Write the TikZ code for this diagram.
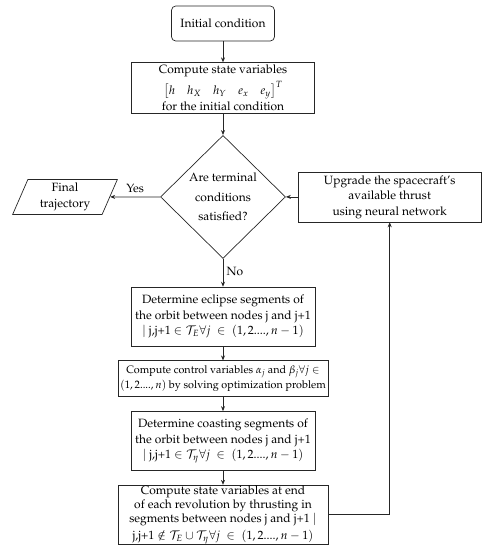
\documentclass[tikz,border=0pt]{standalone}
\usepackage[T1]{fontenc}
\usepackage{amsmath,amssymb}
\usepackage{mathpazo}
\usetikzlibrary{shapes,arrows,shapes.geometric}
\usetikzlibrary{positioning,calc}
\usetikzlibrary{arrows.meta}

\tikzset{
	procbox/.style={rectangle, draw=black!85, line width=0.7pt, align=center, inner sep=2pt},
	flowarrow/.style={-{Stealth[length=5pt,width=4pt]}, line width=0.8pt, black!85},
}

\begin{document}
\begin{tikzpicture}[font=\fontsize{12}{15.5}\selectfont]
				\useasboundingbox (0,0) rectangle (485pt,-550pt);
				\node[procbox, minimum width=103pt, minimum height=35pt, rounded corners=.15cm] (init) at (223pt,-23.5pt) {Initial condition};
				\node[procbox, minimum width=183pt, minimum height=51pt, below=21pt of init, inner sep=0.5pt] (state) {Compute state variables\\[3pt] $\bigl[h\quad h_X\quad h_Y\quad e_x\quad e_y\bigr]^T$\\[1pt] for the initial condition};
				\node[diamond, draw=black!85, line width=0.7pt, align=center, inner sep=0pt, minimum width=125pt, minimum height=123pt, below=21pt of state] (cond) {Are terminal\\[4pt]conditions\\[4pt]satisfied?};
				\node[trapezium, trapezium left angle=70, trapezium right angle=110, trapezium stretches=true, draw=black!85, line width=0.7pt, align=center, inner sep=1pt, minimum width=105pt, minimum height=35pt, left=50pt of cond] (final) {Final\\trajectory};
				\node[procbox, minimum width=183pt, minimum height=50pt, right=12pt of cond] (upgrade) {Upgrade the spacecraft's\\available thrust\\using neural network};
				\node[procbox, minimum width=184pt, minimum height=59pt, below=28pt of cond] (eclipse) {Determine eclipse segments of\\the orbit between nodes j and j+1\\$\mid$ j,j+1 $\in\mathcal{T}_E\forall j\ \in\ (1,2....,n-1)$};
				\node[procbox, minimum width=210pt, minimum height=36pt, below=14pt of eclipse, inner sep=1pt, font=\fontsize{10.8}{15}\selectfont] (control) {Compute control variables $\alpha_j$ and $\beta_j\forall j\in$\\$(1,2....,n)$ by solving optimization problem};
				\node[procbox, minimum width=184pt, minimum height=59pt, below=14pt of control] (coast) {Determine coasting segments of\\the orbit between nodes j and j+1\\$\mid$ j,j+1 $\in\mathcal{T}_\eta\forall j\ \in\ (1,2....,n-1)$};
				\node[procbox, minimum width=210pt, minimum height=58pt, below=14pt of coast, inner sep=0.5pt, font=\fontsize{12}{14.3}\selectfont] (thrust) {Compute state variables at end\\of each revolution by thrusting in\\segments between nodes j and j+1 $\mid$\\[2.5pt]j,j+1 $\notin\mathcal{T}_E\cup\mathcal{T}_\eta\forall j\ \in\ (1,2....,n-1)$};
				% connectors
				\draw[flowarrow] (init) -- (state);
				\draw[flowarrow] (state) -- (cond);
				\draw[flowarrow] (cond.west) -- node[above, black] {Yes} (final);
				\draw[flowarrow] (cond.south) -- node[right, pos=0.45, black] {No} (eclipse);
				\draw[flowarrow] (upgrade.west) -- (cond.east);
				\draw[flowarrow] (eclipse) -- (control);
				\draw[flowarrow] (control) -- (coast);
				\draw[flowarrow] (coast) -- (thrust);
				\draw[flowarrow] (thrust.east) -| (upgrade.south);
			\end{tikzpicture}
\end{document}
